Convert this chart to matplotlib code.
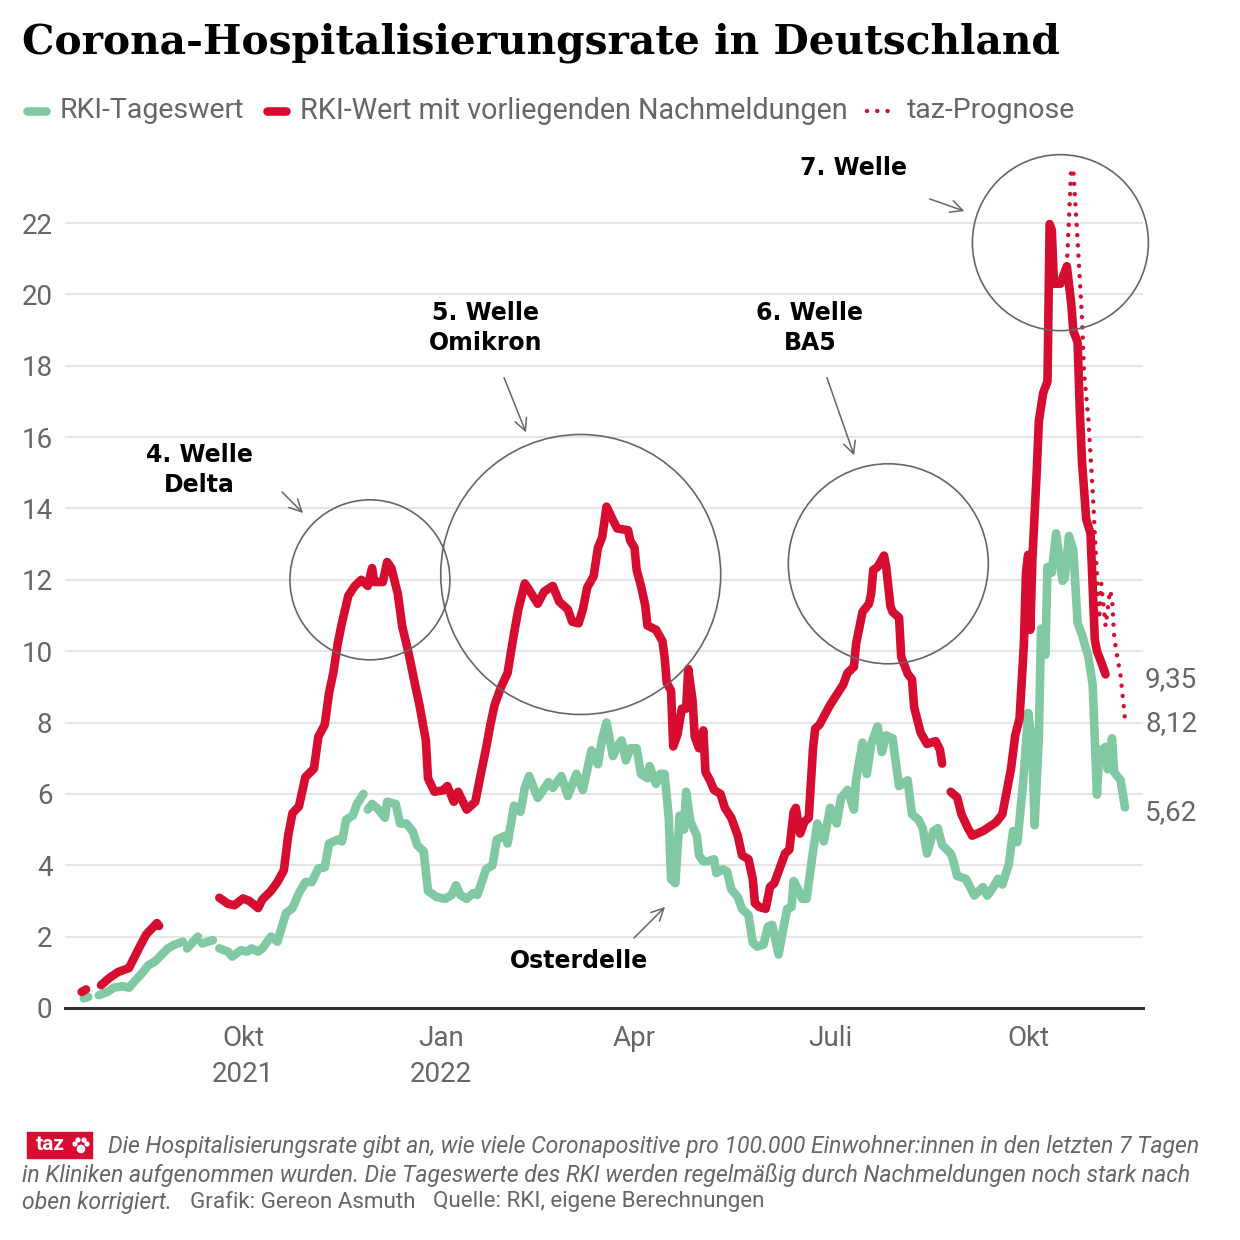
import matplotlib.pyplot as plt
import matplotlib.dates as mdates
import numpy as np
import pandas as pd
from matplotlib.patches import Ellipse, Rectangle, Circle
from matplotlib.lines import Line2D

plt.rcParams['font.family'] = ['Roboto', 'DejaVu Sans']

nan = np.nan
start = pd.Timestamp("2021-10-01")

# days after 2021-10-01
red_days = [-75, -73, -70,
            -66, -62, -58, -53, -51, -48, -45, -40, -39,
            -25,
            -11, -7, -4, 0, 3, 7, 9, 13, 16, 19, 21, 23, 26, 29, 33, 35, 38, 40, 42, 44, 46, 49,
            52, 55, 58, 60, 61, 65, 67, 69, 72, 74, 77, 80, 82, 85, 86, 89, 93, 95, 98, 100,
            104, 108, 110, 113, 115, 117, 120, 123, 126, 128, 131, 133, 137, 140, 144, 147, 151,
            153, 156, 158, 160, 163, 165, 167, 169, 172, 174, 179, 180, 182, 183, 185, 187, 188,
            192, 195, 196, 197, 199, 200, 202, 204, 206, 207, 209, 210, 212, 214, 215, 217, 219,
            222, 224, 227, 230, 232, 235, 237, 238, 240, 243, 245, 247, 250, 252, 254, 256, 257,
            259, 261, 263, 265, 266, 268, 271, 273, 276, 279, 281, 284, 285, 288, 291, 292, 293,
            295, 298, 299, 301, 302, 305, 306, 309, 311, 312, 315, 318, 322, 324, 325, 327,
            329, 332, 334, 337, 339, 344, 346, 350, 353, 357, 359, 361, 363, 364, 365, 366, 367,
            369, 370, 372, 374, 375, 376, 377, 380, 383, 385, 386, 388, 389, 390, 392, 394, 396,
            397, 399, 401]
red_vals = [0.45, 0.52, nan,
            0.64, 0.85, 1.01, 1.12, 1.36, 1.72, 2.06, 2.38, 2.3,
            nan,
            3.09, 2.92, 2.88, 3.07, 3.0, 2.8, 3.04, 3.28, 3.53, 3.86, 4.83, 5.46, 5.65, 6.47, 6.71,
            7.6, 7.94, 8.83, 9.4, 10.2, 10.8, 11.56, 11.83, 12.0, 11.83, 12.33, 11.94, 11.94,
            12.5, 12.33, 11.6, 10.7, 9.94, 9.06, 8.5, 7.5, 6.44, 6.06, 6.1, 6.22, 5.78, 6.06,
            5.56, 5.78, 6.39, 7.28, 7.94, 8.5, 9.0, 9.39, 10.5, 11.17, 11.9, 11.72, 11.33, 11.67,
            11.83, 11.39, 11.17, 10.83, 10.78, 11.17, 11.78, 12.1, 12.9, 13.2, 14.05, 13.67,
            13.44, 13.39, 13.1, 12.9, 12.28, 11.83, 11.28, 10.72, 10.6, 10.28, 9.83, 9.11, 8.89,
            7.33, 7.67, 8.39, 8.39, 9.5, 8.61, 7.61, 7.28, 7.78, 6.61, 6.39, 6.11, 6.0, 5.61,
            5.33, 4.83, 4.28, 4.17, 3.61, 2.94, 2.83, 2.78, 3.39, 3.5, 4.0, 4.33, 4.44, 5.5, 5.61,
            4.89, 5.22, 5.33, 7.28, 7.83, 7.94, 8.28, 8.5, 8.78, 9.06, 9.39, 9.56, 10.2, 11.1,
            11.33, 11.6, 12.28, 12.36, 12.68, 12.36, 11.26, 11.1, 10.94, 9.84, 9.37, 9.21, 8.43,
            7.72, 7.4, 7.48, 7.24, 6.85, nan,
            6.06, 5.9, 5.43, 5.04, 4.83, 4.96, 5.04, 5.2, 5.43, 6.69, 7.64, 8.11, 10.16, 12.2,
            12.7, 10.6, 12.6, 15.04, 16.46, 17.24, 17.56, 21.97, 21.8, 20.3, 20.3, 20.79, 19.76,
            18.98, 18.66, 16.77, 15.35, 13.7, 13.3, 10.31, 10.0, 9.69, 9.35]

green_days = [-74, -72, -70,
              -67, -63, -60, -56, -53, -50, -47, -44, -41, -38, -35, -32, -28, -27, -26, -21,
              -20, -19, -14, -13, -11, -7, -5, -1, 2, 4, 7, 9, 13, 16, 20, 23, 26, 29, 32, 35,
              38, 40, 44, 46, 48, 51, 53, 56, 57, 58, 60, 63, 66, 67, 71, 73, 76, 79, 81, 84, 86,
              90, 94, 97, 99, 101, 104, 107, 109, 113, 116, 118, 122, 123, 126, 129, 131, 133,
              137, 139, 142, 144, 148, 151, 155, 158, 160, 162, 165, 167, 169, 172, 174, 176, 178,
              180, 183, 185, 188, 189, 191, 192, 194, 196, 198, 199, 201, 203, 205, 206, 208, 211,
              212, 214, 216, 219, 220, 223, 225, 227, 230, 232, 235, 237, 239, 242, 244, 246, 247,
              249, 251, 253, 255, 256, 258, 260, 262, 265, 267, 270, 273, 276, 278, 281, 284, 285,
              288, 290, 292, 295, 297, 299, 302, 303, 305, 307, 309, 311, 314, 316, 318, 321, 323,
              325, 329, 330, 332, 336, 338, 340, 344, 346, 348, 351, 353, 356, 358, 360, 363, 365,
              367, 368, 370, 371, 373, 374, 376, 378, 381, 382, 384, 386, 388, 390, 393, 395, 397,
              398, 401, 402, 404, 405, 408, 410]
green_vals = [0.27, 0.31, nan,
              0.36, 0.45, 0.57, 0.61, 0.57, 0.78, 0.97, 1.2, 1.3, 1.48, 1.67, 1.77, 1.86, nan,
              1.67, 2.0, nan, 1.81, 1.9, nan, 1.67, 1.58, 1.44, 1.62, 1.58, 1.67, 1.58, 1.67, 2.0,
              1.86, 2.66, 2.8, 3.22, 3.53, 3.53, 3.91, 3.94, 4.61, 4.72, 4.67, 5.28, 5.39, 5.72,
              6.0, nan, 5.56, 5.72, 5.56, 5.33, 5.78, 5.72, 5.17, 5.17, 4.94, 4.56, 4.39, 3.28,
              3.11, 3.06, 3.17, 3.44, 3.17, 3.06, 3.22, 3.17, 3.89, 4.0, 4.72, 4.83, 4.61, 5.67,
              5.5, 6.17, 6.5, 5.89, 6.06, 6.33, 6.17, 6.5, 5.94, 6.56, 6.11, 6.67, 7.22, 6.83, 7.56,
              8.0, 7.06, 7.33, 7.5, 6.94, 7.28, 7.28, 6.56, 6.44, 6.78, 6.44, 6.28, 6.56, 6.56,
              5.28, 3.61, 3.5, 5.39, 5.0, 6.06, 5.22, 4.83, 4.28, 4.11, 4.11, 4.17, 3.78, 3.89,
              3.83, 3.33, 3.11, 2.78, 2.61, 1.83, 1.72, 1.78, 2.28, 2.33, 2.06, 1.5, 2.17, 2.78,
              2.83, 3.56, 3.33, 3.06, 3.06, 4.39, 5.17, 4.67, 5.61, 5.17, 5.89, 6.11, 5.56, 6.39,
              7.44, 6.56, 7.39, 7.89, 7.17, 7.64, 7.56, 7.09, 6.22, 6.3, 6.38, 5.43, 5.28, 5.04,
              4.33, 4.96, 5.04, 4.57, 4.33, 4.17, 3.7, 3.62, 3.39, 3.15, 3.39, 3.15, 3.31, 3.62,
              3.46, 4.02, 4.96, 4.65, 6.54, 8.27, 7.32, 5.12, 7.64, 10.63, 9.9, 12.36, 12.2, 13.3,
              11.97, 12.05, 13.23, 12.83, 10.79, 10.47, 9.84, 9.06, 5.98, 7.17, 7.32, 6.69, 7.56,
              6.61, 6.38, 5.62]

prog_days = [383, 385, 386, 388, 390, 391, 393, 395, 396, 398, 399, 401, 403, 404, 405, 406, 408, 410]
prog_vals = [20.8, 23.5, 23.5, 21.5, 19.4, 17.8, 16.5, 14.5, 13.3, 10.9, 11.9, 10.7, 11.7, 11.5,
             10.4, 10.0, 9.3, 8.12]

tick_days = [0, 92, 182, 273, 365]
tick_labels = ['Okt\n2021', 'Jan\n2022', 'Apr', 'Juli', 'Okt']

end_labels = ['9,35', '8,12', '5,62']
end_values = [9.35, 8.12, 5.62]

# wave circles: centre day, centre value, radius in pixels
waves = [(59, 12.0, 80), (157, 12.15, 140), (300, 12.45, 100), (380, 21.45, 88)]

RED = '#d60d31'
GREEN = '#80c9a3'
GREY = '#666666'
W = 1240.0
PX_DAY = 2.151
PX_UNIT = 35.68


def dates(days):
    return start + pd.to_timedelta(days, unit='D')


def fx(x):
    return x / W


def fy(y):
    return 1 - y / W


fig = plt.figure(figsize=(12.4, 12.4), dpi=100)
ax = fig.add_axes([fx(65), fy(1008), (1143 - 65) / W, (1008 - 140) / W])
ax.set_xlim(dates(-82.75), dates(418.4))
ax.set_ylim(0, (1008 - 140) / PX_UNIT)

ax.plot(dates(green_days), green_vals, color=GREEN, lw=6.2, solid_capstyle='round',
        solid_joinstyle='round', zorder=3)
ax.plot(dates(red_days), red_vals, color=RED, lw=6.2, solid_capstyle='round',
        solid_joinstyle='round', zorder=4)
ax.plot(dates(prog_days), prog_vals, color=RED, lw=3.2, linestyle=(0, (0.01, 2.3)),
        dash_capstyle='round', zorder=4)

for spine in ['left', 'right', 'top']:
    ax.spines[spine].set_visible(False)
ax.spines['bottom'].set_color('#333333')
ax.spines['bottom'].set_linewidth(2.2)
ax.spines['bottom'].set_zorder(5)

ax.set_yticks(range(0, 23, 2))
ax.grid(axis='y', color='#e6e6e6', lw=1.5, zorder=0)
ax.set_axisbelow(True)
ax.tick_params(axis='y', length=0, pad=9, labelsize=20, labelcolor=GREY)
ax.set_xticks(dates(tick_days))
ax.set_xticklabels(tick_labels, linespacing=1.45)
ax.tick_params(axis='x', length=0, pad=12, labelsize=20, labelcolor=GREY)

for lab, val in zip(end_labels, end_values):
    ax.annotate(lab, xy=(1, val), xycoords=('axes fraction', 'data'), xytext=(1.5, -3.5),
                textcoords='offset points', fontsize=20, color=GREY, va='center', ha='left')

# wave circles (round in pixel space)
for day, val, r in waves:
    cx = mdates.date2num(dates(day))
    ax.add_patch(Ellipse((cx, val), width=2 * r / PX_DAY, height=2 * r / PX_UNIT,
                         fill=False, edgecolor=GREY, lw=1.2, zorder=6, clip_on=False))

# labels and arrows
notes = [('4. Welle\nDelta', 199, 470), ('5. Welle\nOmikron', 486, 328),
         ('6. Welle\nBA5', 810, 328), ('7. Welle', 853, 168), ('Osterdelle', 579, 961)]
for txt, x, y in notes:
    fig.text(fx(x), fy(y), txt, ha='center', va='center', fontsize=17, fontweight='bold',
             color='black', linespacing=1.3, family='DejaVu Sans')
arrows = [((280, 490), (305, 515)), ((503, 375), (527, 435)), ((826, 375), (855, 458)),
          ((927, 198), (967, 212)), ((632, 940), (667, 905))]
for (x0, y0), (x1, y1) in arrows:
    fig.add_artist(plt.Annotation('', xy=(fx(x1), fy(y1)), xytext=(fx(x0), fy(y0)),
                                  xycoords='figure fraction', textcoords='figure fraction',
                                  arrowprops=dict(arrowstyle='->', color=GREY, lw=1.1,
                                                  mutation_scale=22)))

# title
fig.text(fx(22), fy(43), 'Corona-Hospitalisierungsrate in Deutschland', fontsize=29.3,
         fontweight='bold', family='DejaVu Serif', va='center', ha='left')

# legend
ly = fy(111)
fig.add_artist(Line2D([fx(27), fx(46)], [ly, ly], color=GREEN, lw=6.2, solid_capstyle='round'))
fig.text(fx(60), ly, 'RKI-Tageswert', fontsize=20.5, color=GREY, va='center')
fig.add_artist(Line2D([fx(267), fx(286)], [ly, ly], color=RED, lw=6.2, solid_capstyle='round'))
fig.text(fx(300), ly, 'RKI-Wert mit vorliegenden Nachmeldungen', fontsize=20.7, color=GREY,
         va='center')
fig.add_artist(Line2D([fx(867), fx(897)], [ly, ly], color=RED, lw=3.2, linestyle=(0, (0.01, 2.3)),
                      dash_capstyle='round'))
fig.text(fx(907), ly, 'taz-Prognose', fontsize=20.5, color=GREY, va='center')

# footer with logo
fig.add_artist(Rectangle((fx(27), fy(1158)), 65 / W, 26 / W, color=RED, transform=fig.transFigure))
fig.text(fx(36), fy(1145), 'taz', fontsize=15, fontweight='bold', color='white', va='center')
for cx, cy, r in [(81, 1149, 3.6), (75, 1144, 1.9), (78, 1140, 1.9), (84, 1140, 1.9), (87, 1144, 1.9)]:
    fig.add_artist(Circle((fx(cx), fy(cy)), r / W, color='white', transform=fig.transFigure))

fs = 16.6
fig.text(fx(108), fy(1147), 'Die Hospitalisierungsrate gibt an, wie viele Coronapositive pro '
         '100.000 Einwohner:innen in den letzten 7 Tagen', fontsize=fs, style='italic',
         color=GREY, va='center')
fig.text(fx(22), fy(1175), 'in Kliniken aufgenommen wurden. Die Tageswerte des RKI werden '
         'regelmäßig durch Nachmeldungen noch stark nach', fontsize=fs, style='italic',
         color=GREY, va='center')
fig.text(fx(22), fy(1202), 'oben korrigiert.', fontsize=fs, style='italic', color=GREY, va='center')
fig.text(fx(190), fy(1202), 'Grafik: Gereon Asmuth', fontsize=16.1, color=GREY, va='center')
fig.text(fx(433), fy(1202), 'Quelle: RKI, eigene Berechnungen', fontsize=16.1, color=GREY,
         va='center')

fig.savefig('out.png', dpi=100, facecolor='white')
